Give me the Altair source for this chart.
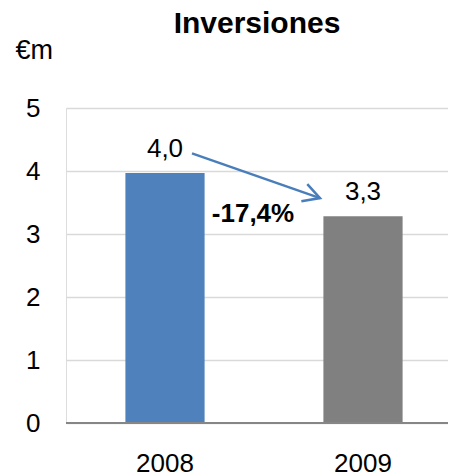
import altair as alt
import pandas as pd

years = ["2008", "2009"]
values = [3.97, 3.28]
value_labels = ["4,0", "3,3"]
bar_colors = ["#4F81BD", "#808080"]
y_ticks = [0, 1, 2, 3, 4, 5]
change_label = ["-17,4%"]
change_pos_year = ["2008"]
change_pos_value = [3.19]
arrow_years = ["2008", "2009"]
arrow_values = [4.28, 3.57]
chart_title = "Inversiones"

FONT = "Liberation Sans"
W, H = 382, 315

df = pd.DataFrame({"year": years, "value": values, "label": value_labels, "color": bar_colors})
df_change = pd.DataFrame({"year": change_pos_year, "value": change_pos_value, "label": change_label})
df_arrow = pd.DataFrame({"year": [arrow_years[0]], "value": [arrow_values[0]],
                         "year2": [arrow_years[1]], "value2": [arrow_values[1]]})
df_head = pd.DataFrame({"year": [arrow_years[1]], "value": [arrow_values[1]]})
df_title = pd.DataFrame({"t": [chart_title]})

xscale = alt.Scale(domain=years, range=[0, 396], paddingInner=0.6, paddingOuter=0.3)
yscale = alt.Scale(domain=[0, 5], nice=False)

x = alt.X("year:N", scale=xscale,
          axis=alt.Axis(title=None, labelAngle=0, ticks=False, domain=False,
                        labelFontSize=26, labelPadding=27, labelColor="black", labelFont=FONT))
y = alt.Y("value:Q", scale=yscale,
          axis=alt.Axis(values=y_ticks, format="d", title="€m", titleAngle=0,
                        titleX=-51, titleY=-50, titleAlign="left", titleBaseline="alphabetic",
                        titleFontSize=27, titleFontWeight="normal", titleColor="black", titleFont=FONT,
                        labelFontSize=26, labelPadding=26, labelColor="black", labelFont=FONT,
                        ticks=False, domain=False, gridColor="#D9D9D9", gridWidth=1.5))

base = alt.Chart(df)
bars = base.mark_bar().encode(x=x, y=y, color=alt.Color("color:N", scale=None))
labels = base.mark_text(fontSize=26, font=FONT, baseline="alphabetic", dy=-16, color="black").encode(
    x="year:N", y="value:Q", text="label:N")

zero = alt.Chart(df).mark_rule(color="#868686", strokeWidth=2).encode(
    y=alt.datum(0), x=alt.value(0), x2=alt.value(W))

change = alt.Chart(df_change).mark_text(fontSize=26, font=FONT, fontWeight="bold", baseline="alphabetic",
                                        dx=88, color="black").encode(
    x="year:N", y="value:Q", text="label:N")

arrow = alt.Chart(df_arrow).mark_rule(color="#4A7EBB", strokeWidth=2.5, xOffset=27, x2Offset=-43).encode(
    x="year:N", y="value:Q", x2="year2:N", y2="value2:Q")

head = alt.Chart(df_head).mark_point(shape="M -1 -0.55 L 0 0 L -1 0.55", size=1100, filled=False,
                                     color="#4A7EBB", strokeWidth=2.5, angle=19, xOffset=-43, opacity=1).encode(
    x="year:N", y="value:Q")

title = alt.Chart(df_title).mark_text(fontSize=30, font=FONT, fontWeight="bold", baseline="alphabetic",
                                      align="center", color="black").encode(
    text="t:N", x=alt.value(W / 2), y=alt.value(-75))

chart = alt.layer(bars, zero, labels, change, arrow, head, title).properties(
    width=W, height=H,
    autosize=alt.AutoSizeParams(type="none"),
    padding={"left": 58, "top": 100, "right": 0, "bottom": 50},
).configure_view(stroke=None).configure(font=FONT)

chart.save("out.html", embed_options={"renderer": "svg", "actions": False})
